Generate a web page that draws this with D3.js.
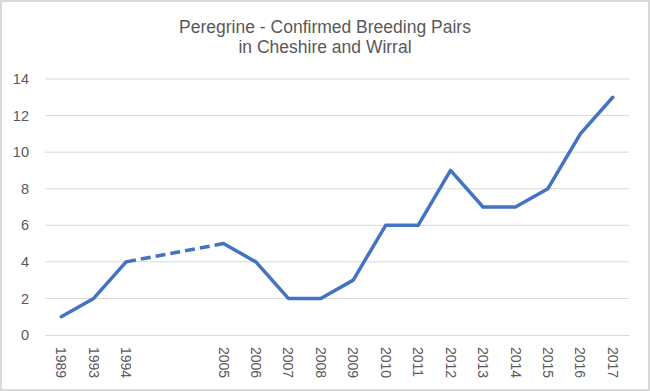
<!DOCTYPE html>
<html>
<head>
<meta charset="utf-8">
<script src="https://cdn.jsdelivr.net/npm/d3@7"></script>
<style>
  body { margin: 0; background: #fff; }
  svg { display: block; font-family: "Liberation Sans", Arial, sans-serif; }
</style>
</head>
<body>
<div id="chart"></div>
<script>
// categories along the x axis; the two "gap" slots are empty years
const years = ["1989", "1993", "1994", "gap1", "gap2", "2005", "2006", "2007", "2008",
               "2009", "2010", "2011", "2012", "2013", "2014", "2015", "2016", "2017"];
const pairs = [1, 2, 4, null, null, 5, 4, 2, 2, 3, 6, 6, 9, 7, 7, 8, 11, 13];
const yTicks = [0, 2, 4, 6, 8, 10, 12, 14];
const titleLines = ["Peregrine - Confirmed Breeding Pairs", "in Cheshire and Wirral"];

const width = 650, height = 391;
const margin = { top: 79, right: 21, bottom: 56, left: 45 };
const w = width - margin.left - margin.right;
const h = height - margin.top - margin.bottom;

const svg = d3.select("#chart").append("svg")
    .attr("width", width)
    .attr("height", height);

// chart area border
svg.append("rect")
    .attr("x", 1).attr("y", 1)
    .attr("width", width - 2).attr("height", height - 2)
    .attr("fill", "#fff")
    .attr("stroke", "#d9d9d9")
    .attr("stroke-width", 2);

// title
svg.append("text")
    .attr("x", width / 2)
    .attr("y", 33)
    .attr("text-anchor", "middle")
    .attr("fill", "#595959")
    .style("font-size", "17.5px")
    .selectAll("tspan")
    .data(titleLines)
    .enter()
    .append("tspan")
    .attr("x", width / 2)
    .attr("dy", (d, i) => i === 0 ? 0 : 20)
    .text(d => d);

const g = svg.append("g")
    .attr("transform", `translate(${margin.left},${margin.top})`);

const x = d3.scaleBand()
    .domain(years)
    .range([0, w]);

const y = d3.scaleLinear()
    .domain([0, 14])
    .range([h, 0]);

// gridlines
g.append("g")
    .selectAll("line")
    .data(yTicks.filter(t => t > 0))
    .enter()
    .append("line")
    .attr("x1", 0).attr("x2", w)
    .attr("y1", d => y(d)).attr("y2", d => y(d))
    .attr("stroke", "#d9d9d9")
    .attr("stroke-width", 1);

// y axis labels
const yAxis = g.append("g")
    .call(d3.axisLeft(y).tickValues(yTicks).tickSize(0).tickPadding(16));
yAxis.select(".domain").remove();
yAxis.selectAll("text")
    .attr("fill", "#595959")
    .style("font-size", "14.5px")
    .style("font-family", "'Liberation Sans', Arial, sans-serif");

// x axis
const xAxis = g.append("g")
    .attr("transform", `translate(0,${h})`)
    .call(d3.axisBottom(x).tickSize(0).tickFormat(d => d.startsWith("gap") ? "" : d));
xAxis.select(".domain").attr("stroke", "#d9d9d9");
xAxis.selectAll("text")
    .attr("fill", "#595959")
    .style("font-size", "14px")
    .style("font-family", "'Liberation Sans', Arial, sans-serif")
    .attr("text-anchor", "start")
    .attr("transform", "rotate(90)")
    .attr("x", 12)
    .attr("y", 0)
    .attr("dy", "0.35em");

// solid line where consecutive years exist, dashed across the gap
const pts = years.map((c, i) => ({ c, v: pairs[i] })).filter(d => d.v !== null);
const cx = d => x(d.c) + x.bandwidth() / 2;
const line = d3.line().x(cx).y(d => y(d.v));

const firstGap = pairs.indexOf(null);
const before = pts.filter(d => years.indexOf(d.c) < firstGap);
const after = pts.filter(d => years.indexOf(d.c) > firstGap);

g.append("path")
    .datum([before[before.length - 1], after[0]])
    .attr("fill", "none")
    .attr("stroke", "#4472c4")
    .attr("stroke-width", 3.5)
    .attr("stroke-dasharray", "10,5")
    .attr("d", line);

[before, after].forEach(seg => {
    g.append("path")
        .datum(seg)
        .attr("fill", "none")
        .attr("stroke", "#4472c4")
        .attr("stroke-width", 3.5)
        .attr("stroke-linejoin", "round")
        .attr("stroke-linecap", "round")
        .attr("d", line);
});
</script>
</body>
</html>
